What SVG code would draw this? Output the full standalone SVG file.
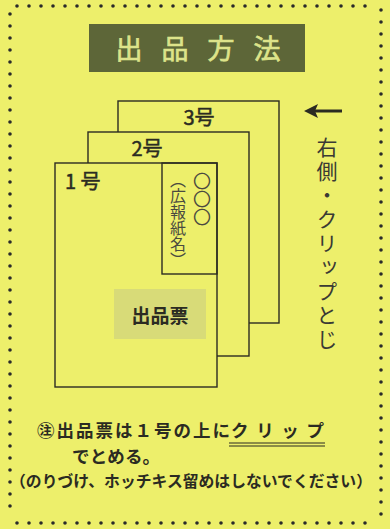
<svg xmlns="http://www.w3.org/2000/svg" width="390" height="529" viewBox="0 0 390 529">
<style>
.dot{fill:none;stroke:#2a2a2a;stroke-width:3.6;stroke-linecap:round;stroke-dasharray:0 12}
.page{fill:#EDEF6B;stroke:#2b2b22;stroke-width:1.4}
.sans{font-family:"Noto Sans CJK JP","Noto Sans",sans-serif}
.lbl{font-size:20px;fill:#2b2b22;stroke:#2b2b22;stroke-width:0.5}
.vt{writing-mode:vertical-rl;font-family:"Noto Sans CJK JP",sans-serif}
.nt{font-family:"Noto Sans CJK JP",sans-serif;font-weight:bold;fill:#2b2b22}
</style>
<rect width="390" height="529" fill="#EDEF6B"/>
<g id="border">
<line class="dot" x1="17" y1="6" x2="377" y2="6"/>
<line class="dot" x1="10" y1="14" x2="10" y2="518"/>
<line class="dot" x1="381" y1="10" x2="381" y2="518"/>
<line class="dot" x1="17" y1="523" x2="377" y2="523"/>
</g>
<g id="title">
<rect x="89" y="24" width="216" height="48" fill="#5D6638"/>
<text x="198" y="59" text-anchor="middle" class="sans" font-size="27" fill="#DDE38A" stroke="#DDE38A" stroke-width="0.7" textLength="165" lengthAdjust="spacing">出品方法</text>
</g>
<g id="page3">
<rect class="page" x="118" y="101" width="161" height="222"/>
<text x="199" y="125" text-anchor="middle" class="sans lbl">3号</text>
</g>
<g id="page2">
<rect class="page" x="88" y="132" width="161" height="224"/>
<text x="147" y="156" text-anchor="middle" class="sans lbl">2号</text>
</g>
<g id="page1">
<rect class="page" x="55" y="163" width="162" height="224"/>
<text x="65" y="189" class="sans lbl">1 号</text>
</g>
<g id="paper-name">
<rect x="162" y="163" width="55" height="111" fill="none" stroke="#2b2b22" stroke-width="1.4"/>
<text x="202" y="172" class="vt" font-size="18" fill="#4a4a40">〇〇〇</text>
<text x="178" y="172" class="vt" font-size="16" fill="#4a4a40">（広報紙名）</text>
</g>
<g id="slip">
<rect x="114" y="289" width="92" height="50" fill="#D8DB78"/>
<text x="160" y="323" text-anchor="middle" class="sans" font-size="19" font-weight="bold" fill="#2b2b22">出品票</text>
</g>
<g id="connectors">
<line x1="342" y1="111" x2="312" y2="111" stroke="#2b2b22" stroke-width="3"/>
<path d="M304,111 L318,104 L315,111 L318,118 Z" fill="#2b2b22"/>
</g>
<g id="clip-note">
<text x="327" y="137" class="vt" font-size="21" fill="#3a3a34" letter-spacing="3">右側・クリップとじ</text>
</g>
<g id="note">
<text x="37" y="437" class="nt" font-size="17.5" textLength="193" lengthAdjust="spacing">㊟出品票は１号の上に</text>
<text x="231" y="437" class="nt" font-size="17.5" textLength="93" lengthAdjust="spacing">クリップ</text>
<line x1="229" y1="443" x2="325" y2="443" stroke="#2b2b22" stroke-width="1"/>
<line x1="229" y1="446" x2="325" y2="446" stroke="#2b2b22" stroke-width="1"/>
<text x="72" y="463" class="nt" font-size="17.5" textLength="88" lengthAdjust="spacing">でとめる。</text>
<text x="191" y="487" text-anchor="middle" class="nt" font-size="16" textLength="362" lengthAdjust="spacingAndGlyphs">（のりづけ、ホッチキス留めはしないでください）</text>
</g>
</svg>
